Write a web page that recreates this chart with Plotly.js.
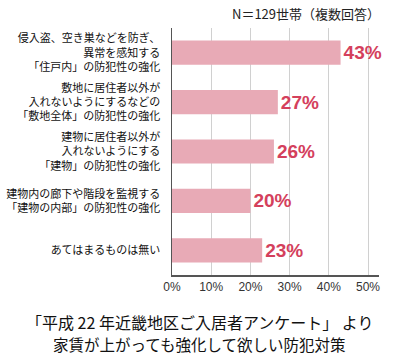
<!DOCTYPE html>
<html><head><meta charset="utf-8">
<script src="https://cdn.plot.ly/plotly-3.0.1.min.js"></script>
<style>html,body{margin:0;padding:0;background:#fff}</style>
</head><body><div id="chart" style="width:400px;height:363px"></div>
<script>
const categories = [
  "侵入盗、空き巣などを防ぎ、<br>異常を感知する<br>「住戸内」の防犯性の強化",
  "敷地に居住者以外が<br>入れないようにするなどの<br>「敷地全体」の防犯性の強化",
  "建物に居住者以外が<br>入れないようにする<br>「建物」の防犯性の強化",
  "建物内の廊下や階段を監視する<br>「建物の内部」の防犯性の強化",
  "あてはまるものは無い"
];
const values = [43, 27, 26, 20, 23];
const valueLabels = values.map(v => v + "%");
const tickVals = [0, 10, 20, 30, 40, 50];
const tickText = ["0%", "10%", "20%", "30%", "40%", "50%"];
const noteText = "N＝129世帯（複数回答）";
const captionLines = ["「平成 22 年近畿地区ご入居者アンケート」 より", "家賃が上がっても強化して欲しい防犯対策"];

const FONT = "Noto Sans CJK JP, Noto Sans, sans-serif";
const LABELFONT = "Liberation Sans, Noto Sans CJK JP, sans-serif";
const trace = {
  type: "bar", orientation: "h",
  x: values, y: categories,
  width: 0.49,
  marker: {color: "#e8aab6", line: {width: 0}},
  text: valueLabels, textposition: "outside",
  textfont: {family: "Liberation Sans, Arial, sans-serif", size: 19, color: "#d4405c", weight: "bold"},
  cliponaxis: false, hoverinfo: "none"
};
const layout = {
  width: 400, height: 363,
  margin: {l: 172, r: 21, t: 28, b: 88},
  paper_bgcolor: "#fff", plot_bgcolor: "#fff",
  showlegend: false,
  font: {family: FONT, color: "#111"},
  xaxis: {
    range: [0, 52.8], tickvals: tickVals, ticktext: tickText,
    showgrid: true, gridcolor: "#d0d0d0", gridwidth: 1,
    showline: true, linecolor: "#555", linewidth: 1.5,
    ticks: "", zeroline: false, fixedrange: true,
    tickfont: {size: 12, color: "#333", family: "Liberation Sans, Arial, sans-serif"}
  },
  yaxis: {
    categoryorder: "array", categoryarray: categories,
    autorange: "reversed",
    showline: true, linecolor: "#555", linewidth: 1.5,
    ticks: "", ticklabelstandoff: 8, showgrid: false,
    tickfont: {size: 11, color: "#111", family: LABELFONT}
  },
  annotations: [
    {xref: "paper", yref: "paper", x: 1.015, y: 1, xanchor: "right", yanchor: "bottom", yshift: 3,
     text: noteText, showarrow: false, font: {size: 13, color: "#222", family: FONT}},
    {xref: "paper", yref: "paper", x: 0.135, y: -0.19, xanchor: "center", yanchor: "middle",
     text: captionLines[0], showarrow: false, font: {size: 16, color: "#111", family: FONT}},
    {xref: "paper", yref: "paper", x: 0.135, y: -0.278, xanchor: "center", yanchor: "middle",
     text: captionLines[1], showarrow: false, font: {size: 15.5, color: "#111", family: FONT}}
  ]
};
Plotly.newPlot("chart", [trace], layout, {displayModeBar: false, staticPlot: true});
</script></body></html>
